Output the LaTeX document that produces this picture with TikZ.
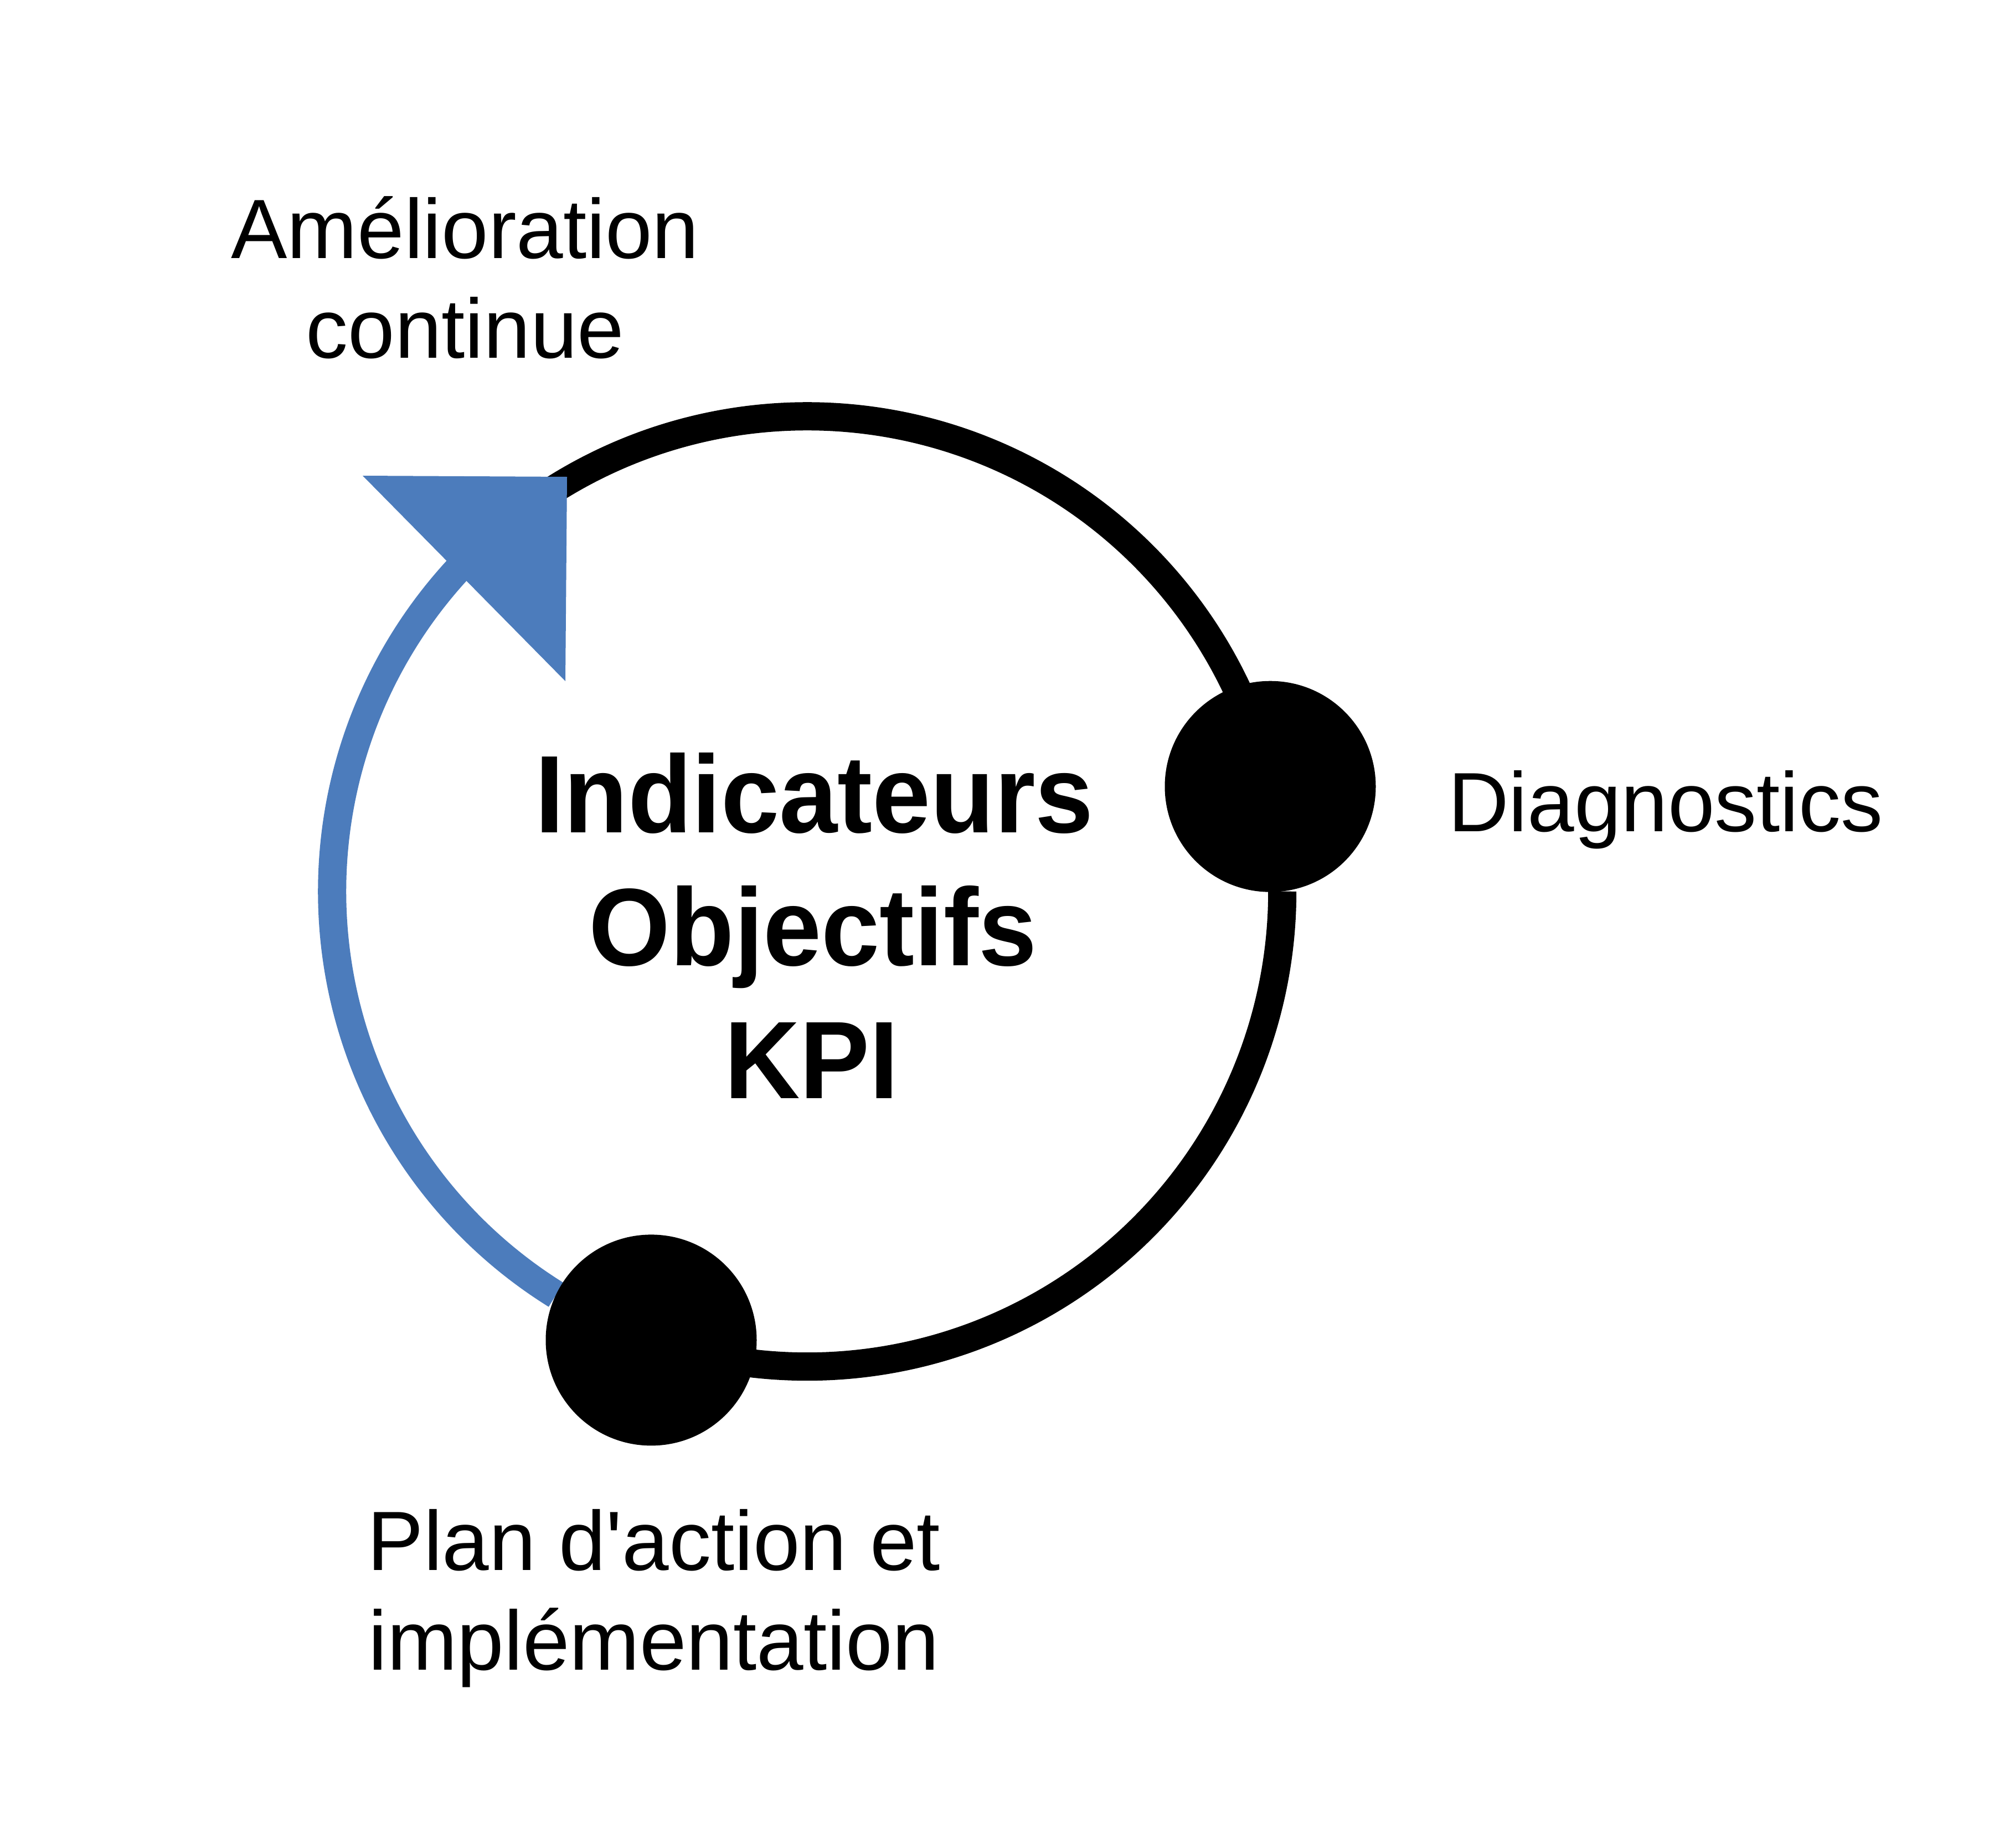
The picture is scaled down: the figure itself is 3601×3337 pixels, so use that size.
\documentclass[tikz,border=0pt]{standalone}
\usepackage{fontspec}
\setmainfont{Liberation Sans}
\newfontfamily\ctrfont[FakeStretch=0.95]{Liberation Sans}
\definecolor{cycleblue}{RGB}{76,124,188}
\tikzset{
  ring/.style={line width=51pt, line cap=butt},
  blackring/.style={ring, draw=black},
  bluering/.style={ring, draw=cycleblue},
  dot/.style={circle, fill=black, draw=none, inner sep=0pt, minimum size=381pt},
  lbl/.style={inner sep=0pt, anchor=base, font=\fontsize{152}{180}\selectfont},
  ctrlbl/.style={inner sep=0pt, anchor=base, font=\ctrfont\bfseries\fontsize{199}{240}\selectfont}
}
\begin{document}
\begin{tikzpicture}[x=1pt,y=1pt]
\useasboundingbox[fill=white] (0,0) rectangle (3601,-3337);
\coordinate (O) at (1457.7,-1609.7);
% arcs
\draw[bluering] (O) ++(238.1:858) arc[start angle=238.1, end angle=136, radius=858pt];
\draw[blackring] (O) ++(125:858) arc[start angle=125, end angle=12.78, radius=858pt];
\draw[blackring] (O) ++(0:858) arc[start angle=0, end angle=-109.17, radius=858pt];
% arrow head
\fill[cycleblue] (655,-859) -- (1024,-861) -- (1021,-1230) -- cycle;
% dots
\node[dot] (diag) at (2294,-1420.2) {};
\node[dot] (plan) at (1176,-2419.9) {};
% labels
\node[lbl] (am1) at (840,-466.6) {Amélioration};
\node[lbl] (am2) at (840,-646.6) {continue};
\node[lbl] (dg) at (3008,-1501.8) {Diagnostics};
\node[lbl] (pl1) at (1181,-2835.7) {Plan d\textquotesingle action et};
\node[lbl] (pl2) at (1181,-3015.7) {implémentation};
\node[ctrlbl] (c1) at (1470.7,-1503.2) {Indicateurs};
\node[ctrlbl] (c2) at (1468,-1743.2) {Objectifs};
\node[ctrlbl] (c3) at (1465.7,-1983.1) {KPI};
\end{tikzpicture}
\end{document}
